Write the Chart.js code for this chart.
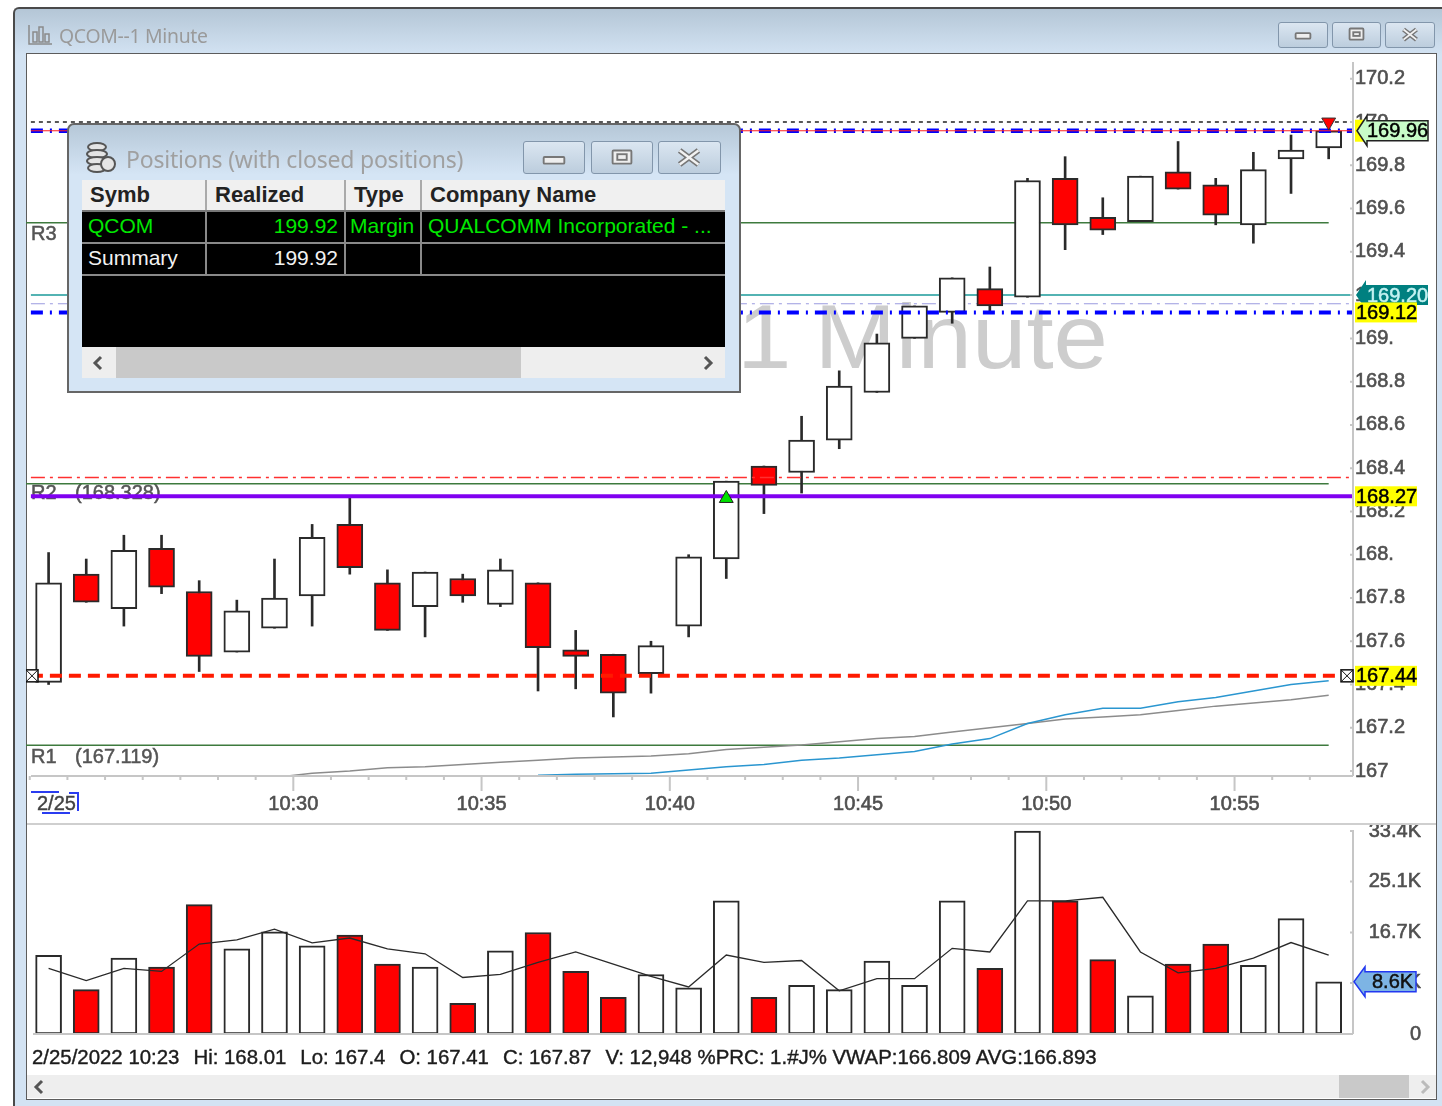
<!DOCTYPE html>
<html>
<head>
<meta charset="utf-8">
<title>QCOM--1 Minute</title>
<script src="https://cdn.jsdelivr.net/npm/chart.js@4"></script>
<style>
  html, body { margin: 0; padding: 0; background: #fff; width: 1442px; height: 1106px; overflow: hidden; }
  body, td, th, div { font-family: "Liberation Sans", Arial, sans-serif; }
  #app { position: absolute; left: 0; top: 0; width: 1442px; height: 1106px; filter: blur(0.45px); }
  #win { position: absolute; left: 13px; top: 7px; width: 1429px; height: 1099px; box-sizing: border-box;
         border-top: 2px solid #4a4a4a; border-left: 2px solid #4a4a4a; border-top-left-radius: 6px;
         background: linear-gradient(#b4c6d6 0, #d3e3f3 46px, #d3e3f3 100%); }
  #panel { position: absolute; left: 26px; top: 53px; width: 1411px; height: 1047px; box-sizing: border-box;
           background: #fff; border: 1.5px solid #5c5c5c; }
  #title { position: absolute; left: 59px; top: 22px; font: 19.4px "Noto Sans", sans-serif; color: #9a9a9a; letter-spacing: -0.3px; }
  canvas { position: absolute; }
  #priceChart { left: 26px; top: 55px; }
  #volumeChart { left: 26px; top: 825px; }
  #divider { position: absolute; left: 27px; top: 823px; width: 1409px; height: 2px; background: #cfcfcf; }
  #dateTag { position: absolute; left: 37px; top: 792px; font-size: 20px; color: #444; -webkit-text-stroke: 0.4px #444; }
  .blue { position: absolute; background: #2a3cf0; }
  #status { position: absolute; left: 32px; top: 1046px; font-size: 20.4px; color: #1c1c1c; white-space: pre; -webkit-text-stroke: 0.4px #1c1c1c; }
  #status span { margin-left: 14px; }
  #scroll { position: absolute; left: 27px; top: 1075px; width: 1409px; height: 23px; background: #eee; }
  #thumb { position: absolute; left: 1312px; top: 0; width: 70px; height: 23px; background: #c9c9c9; }
  .btn { position: absolute; box-sizing: border-box; border: 1.5px solid #8296ab; border-radius: 3px;
         background: linear-gradient(#dbe6f1, #bccddd); }
  .btn svg { position: absolute; left: 0; top: 0; width: 100%; height: 100%; }
  #popup { position: absolute; left: 67px; top: 123px; width: 674px; height: 270px; box-sizing: border-box;
           border: 2px solid #666; border-top-left-radius: 7px; border-top-right-radius: 7px;
           background: linear-gradient(#b6c8d8 0, #d5e5f5 50px, #d5e5f5 100%); }
  #popupTitle { position: absolute; left: 57px; top: 18px; font: 23px "Noto Sans", sans-serif; color: #a0a0a0; letter-spacing: -0.2px; white-space: nowrap; }
  #popTable { position: absolute; left: 13px; top: 55px; width: 643px; height: 167px; border-collapse: collapse; table-layout: fixed; background: #000; }
  #popTable th { background: #f0f0f0; height: 30px; padding: 0 0 0 8px; text-align: left; font-size: 22px; font-weight: bold; color: #222;
                 border-right: 2px solid #aaa; border-bottom: 2px solid #777; }
  #popTable td { font-size: 21px; padding: 0 6px 2px; height: 28px; border: 2px solid #8a8a8a; border-left: none; white-space: nowrap; overflow: hidden; }
  #popTable td:first-child { border-left: none; }
  #popTable .g { color: #00e800; }
  #popTable .w { color: #f2f2f2; }
  #popTable .r { text-align: right; }
  #popTable .blank { height: 73px; border: none; padding: 0; }
  #popScroll { position: absolute; left: 13px; top: 222px; width: 643px; height: 31px; background: #eee; }
  #popThumb { position: absolute; left: 34px; top: 0; width: 405px; height: 31px; background: #c9c9c9; }
  .chev { position: absolute; fill: none; stroke-width: 3; }
</style>
</head>
<body>
<div id="app">
  <div id="win"></div>
  <svg style="position:absolute;left:27px;top:24px" width="26" height="22" fill="none" stroke="#8a8a8a" stroke-width="1.5">
    <path d="M2 1V20H25"/><rect x="6" y="8" width="4" height="10"/><rect x="12" y="3" width="4" height="15"/><rect x="18" y="10" width="4" height="8"/>
  </svg>
  <div id="title">QCOM--1 Minute</div>
  <div class="btn" style="left:1278px;top:22px;width:50px;height:26px"><svg viewBox="0 0 50 26" fill="none" stroke="#777" stroke-width="2"><rect x="17" y="11" width="16" height="6" rx="1" fill="#eee"/></svg></div>
  <div class="btn" style="left:1332px;top:22px;width:49px;height:26px"><svg viewBox="0 0 49 26" fill="none" stroke="#777" stroke-width="2"><rect x="17" y="6" width="15" height="12" rx="1" fill="#eee"/><rect x="21" y="10" width="7" height="4"/></svg></div>
  <div class="btn" style="left:1385px;top:22px;width:50px;height:26px"><svg viewBox="0 0 50 26" fill="none" stroke="#777" stroke-width="5"><path d="M18 7L32 18M32 7L18 18"/><path d="M18 7L32 18M32 7L18 18" stroke="#f2f2f2" stroke-width="2"/></svg></div>
  <div id="panel"></div>
  <canvas id="priceChart" width="1411" height="768"></canvas>
  <div id="divider"></div>
  <canvas id="volumeChart" width="1395" height="220"></canvas>
  <div id="dateTag">2/25</div>
  <div class="blue" style="left:31px;top:791px;width:28px;height:2px"></div>
  <div class="blue" style="left:42px;top:812px;width:28px;height:2px"></div>
  <div class="blue" style="left:69px;top:792px;width:9px;height:1.5px"></div>
  <div class="blue" style="left:77px;top:792px;width:1.5px;height:19px"></div>
  <div id="status">2/25/2022 10:23<span>Hi: 168.01</span><span>Lo: 167.4</span><span>O: 167.41</span><span>C: 167.87</span><span>V: 12,948 %PRC: 1.#J% VWAP:166.809 AVG:166.893</span></div>
  <div id="scroll">
    <svg class="chev" style="left:4px;top:3px" width="16" height="18" stroke="#555"><path d="M11 3L5 9L11 15"/></svg>
    <div id="thumb"></div>
    <svg class="chev" style="left:1390px;top:3px" width="16" height="18" stroke="#bbb"><path d="M5 3L11 9L5 15"/></svg>
  </div>
  <div id="popup">
    <svg style="position:absolute;left:15px;top:16px" width="34" height="34" fill="#e4e4e4" stroke="#555" stroke-width="2">
      <ellipse cx="13" cy="6" rx="9" ry="4"/><ellipse cx="13" cy="13" rx="10" ry="4"/><ellipse cx="13" cy="20" rx="10" ry="4"/><ellipse cx="13" cy="27" rx="9" ry="4"/><circle cx="24" cy="23" r="7"/>
    </svg>
    <div id="popupTitle">Positions (with closed positions)</div>
    <div class="btn" style="left:454px;top:16px;width:62px;height:33px"><svg viewBox="0 0 62 33" fill="none" stroke="#777" stroke-width="2"><rect x="20" y="16" width="22" height="7" rx="1" fill="#eee"/></svg></div>
    <div class="btn" style="left:522px;top:16px;width:62px;height:33px"><svg viewBox="0 0 62 33" fill="none" stroke="#777" stroke-width="2"><rect x="21" y="9" width="20" height="14" rx="1" fill="#eee"/><rect x="26" y="13" width="10" height="6"/></svg></div>
    <div class="btn" style="left:589px;top:16px;width:63px;height:33px"><svg viewBox="0 0 63 33" fill="none" stroke="#777" stroke-width="6"><path d="M21 9L41 24M41 9L21 24"/><path d="M21 9L41 24M41 9L21 24" stroke="#f2f2f2" stroke-width="2.5"/></svg></div>
    <table id="popTable">
      <colgroup><col style="width:124px"><col style="width:139px"><col style="width:76px"><col></colgroup>
      <tr><th>Symb</th><th>Realized</th><th>Type</th><th style="border-right:none">Company Name</th></tr>
      <tr><td class="g">QCOM</td><td class="g r">199.92</td><td class="g" style="padding:0 4px 2px">Margin</td><td class="g" style="border-right:none">QUALCOMM Incorporated - ...</td></tr>
      <tr><td class="w">Summary</td><td class="w r">199.92</td><td></td><td style="border-right:none"></td></tr>
      <tr><td class="blank" colspan="4"></td></tr>
    </table>
    <div id="popScroll">
      <svg class="chev" style="left:8px;top:6px" width="16" height="20" stroke="#555"><path d="M11 4L5 10L11 16"/></svg>
      <div id="popThumb"></div>
      <svg class="chev" style="left:618px;top:6px" width="16" height="20" stroke="#555"><path d="M5 4L11 10L5 16"/></svg>
    </div>
  </div>
</div>

<script>
// one entry per minute bar
const times = ['10:23','10:24','10:25','10:26','10:27','10:28','10:29','10:30','10:31','10:32','10:33','10:34',
               '10:35','10:36','10:37','10:38','10:39','10:40','10:41','10:42','10:43','10:44','10:45','10:46',
               '10:47','10:48','10:49','10:50','10:51','10:52','10:53','10:54','10:55','10:56','10:57'];
const opens  = [167.41,167.91,167.75,168.03,167.83,167.55,167.66,167.81,168.14,167.87,167.76,167.89,
                167.77,167.87,167.56,167.54,167.45,167.67,167.98,168.41,168.38,168.53,168.75,169.00,
                169.12,169.23,169.19,169.74,169.56,169.54,169.77,169.71,169.525,169.83,169.88];
const highs  = [168.01,167.98,168.09,168.09,167.88,167.79,167.98,168.14,168.27,167.93,167.92,167.91,
                167.98,167.87,167.65,167.54,167.60,168.00,168.34,168.41,168.64,168.85,169.02,169.15,
                169.28,169.33,169.74,169.84,169.65,169.75,169.91,169.74,169.86,169.94,169.96];
const lows   = [167.40,167.78,167.67,167.82,167.46,167.55,167.66,167.67,167.91,167.65,167.62,167.78,
                167.76,167.37,167.38,167.25,167.36,167.62,167.89,168.19,168.285,168.49,168.75,169.00,
                169.07,169.12,169.19,169.41,169.48,169.54,169.69,169.525,169.44,169.67,169.83];
const closes = [167.87,167.78,168.02,167.85,167.53,167.74,167.80,168.08,167.94,167.65,167.92,167.81,
                167.93,167.57,167.53,167.36,167.58,167.99,168.34,168.32,168.53,168.78,168.98,169.15,
                169.28,169.15,169.73,169.525,169.50,169.75,169.69,169.57,169.78,169.87,169.96];
const volumes = [12.948,7.3,12.5,11.0,21.3,14.0,16.8,14.5,16.3,11.5,11.0,5.05,
                 13.7,16.7,10.3,6.05,9.8,7.6,21.9,6.05,8.0,7.3,12.0,8.0,
                 21.9,10.8,33.4,21.9,12.25,6.3,11.5,14.8,11.3,19.0,8.6];
const volumeAvg = [10.8,8.8,10.8,10.3,14.8,15.5,17.25,15.0,15.8,14.0,13.2,9.3,
                   9.8,11.8,13.5,11.5,9.5,7.75,13.0,11.8,12.1,7.1,9.1,9.1,
                   14.1,13.5,21.9,21.9,22.5,13.5,10.05,10.8,12.5,15.05,13.0];
const avgLine = [null,null,null,null,null,null,166.97,166.99,167.00,167.015,167.02,167.03,
                 167.04,167.05,167.06,167.065,167.07,167.08,167.10,167.11,167.12,167.135,167.15,167.16,
                 167.18,167.20,167.22,167.24,167.25,167.26,167.28,167.30,167.315,167.33,167.35];
const vwapLine = [null,null,null,null,null,null,null,null,null,null,null,null,
                  null,166.98,166.985,166.987,166.99,167.005,167.02,167.03,167.05,167.06,167.075,167.09,
                  167.125,167.15,167.22,167.26,167.29,167.29,167.32,167.34,167.37,167.40,167.417];

const timeTickLabels = ['10:30','10:35','10:40','10:45','10:50','10:55'];
const priceTicks = [170.2,170,169.8,169.6,169.4,169.2,169,168.8,168.6,168.4,168.2,168,167.8,167.6,167.4,167.2,167];
const priceTickLabels = ['170.2','170','169.8','169.6','169.4','169.2','169.','168.8','168.6','168.4','168.2','168.','167.8','167.6','167.4','167.2','167'];
const volumeTicks = [33.4,25.1,16.7,8.4,0];
const volumeTickLabels = ['33.4K','25.1K','16.7K','8.4K','0'];

const r1 = 167.119, r2 = 168.328, r3 = 169.534;
const r3Label = 'R3', r2Label = 'R2', r1Label = 'R1';
const r2Text = '(168.328)', r1Text = '(167.119)';
const lastPrice = 169.96, pivotTeal = 169.20, blueLevel = 169.12, paleLevel = 169.16;
const topDash = 170.00, redDashDot = 168.357, purpleLevel = 168.27, stopLevel = 167.44;
const buyMarker = 168.26, sellMarker = 170.0;
const lastVolume = 8.6;

function toMinute(t) {
    const parts = t.split(':');
    return parseInt(parts[0]) * 60 + parseInt(parts[1]);
}

// bars sit in the middle of their minute, the ticks on the minute itself
const barX = times.map(t => toMinute(t) + 0.5);
const xMin = 622.90, xMax = 658.146, lineStart = 623.03, lineEnd = 657.5;

function levelSet(label, value, color, width, dash, order, start, end) {
    return {
        type: 'line', label: label, order: order,
        data: [{x: start || lineStart, y: value}, {x: end || xMax, y: value}],
        borderColor: color, borderWidth: width, borderDash: dash || [],
        pointRadius: 0, tension: 0, borderCapStyle: 'butt'
    };
}

function seriesSet(label, values, color, width, order) {
    return {
        type: 'line', label: label, order: order,
        data: barX.map((x, i) => ({x: x, y: values[i]})),
        borderColor: color, borderWidth: width, pointRadius: 0, tension: 0
    };
}

function fixAxisX(height) {
    return scale => { scale.height = height; scale.paddingLeft = 0; scale.paddingRight = 0; };
}
function fixAxisY(width) {
    return scale => { scale.width = width; scale.paddingTop = 0; scale.paddingBottom = 0; };
}

const up = opens.map((o, i) => closes[i] >= o);
const barFill = up.map(u => u ? '#ffffff' : '#ff0000');

function heavyText(ctx, text, x, y, color) {
    ctx.fillStyle = color;
    ctx.strokeStyle = color;
    ctx.lineWidth = 0.5;
    ctx.fillText(text, x, y);
    ctx.strokeText(text, x, y);
}

function arrowTag(ctx, tipX, y, boxX, rightX, fill, stroke, text, color, textX) {
    ctx.beginPath();
    ctx.moveTo(tipX, y);
    ctx.lineTo(boxX, y - 15);
    ctx.lineTo(boxX, y - 10);
    ctx.lineTo(rightX, y - 10);
    ctx.lineTo(rightX, y + 10);
    ctx.lineTo(boxX, y + 10);
    ctx.lineTo(boxX, y + 15);
    ctx.closePath();
    ctx.fillStyle = fill;
    ctx.fill();
    if (stroke) {
        ctx.lineWidth = 1.5;
        ctx.strokeStyle = stroke;
        ctx.stroke();
    }
    ctx.textBaseline = 'middle';
    ctx.textAlign = 'left';
    heavyText(ctx, text, textX, y + 1, color);
}

function yellowTag(ctx, x, y, text) {
    ctx.fillStyle = '#ffff00';
    ctx.fillRect(x, y - 10, 62, 20);
    ctx.textBaseline = 'middle';
    ctx.textAlign = 'left';
    heavyText(ctx, text, x + 1, y + 1, '#000');
}

function crossBox(ctx, x, y) {
    ctx.fillStyle = '#fff';
    ctx.fillRect(x, y - 6, 12, 12);
    ctx.strokeStyle = '#111';
    ctx.lineWidth = 1.5;
    ctx.strokeRect(x, y - 6, 12, 12);
    ctx.lineWidth = 1;
    ctx.beginPath();
    ctx.moveTo(x, y - 6); ctx.lineTo(x + 12, y + 6);
    ctx.moveTo(x + 12, y - 6); ctx.lineTo(x, y + 6);
    ctx.stroke();
}

const priceDecor = {
    id: 'priceDecor',
    beforeDatasetsDraw(chart) {
        const ctx = chart.ctx, y = chart.scales.y, area = chart.chartArea;
        ctx.save();
        // big watermark behind the bars
        ctx.save();
        ctx.translate(1082, 313);
        ctx.scale(1.075, 1);
        ctx.font = '91px "Liberation Sans"';
        ctx.wordSpacing = '-4px';
        ctx.fillStyle = '#cdcdcd';
        ctx.textAlign = 'right';
        ctx.textBaseline = 'alphabetic';
        ctx.fillText('1 Minute', 0, 0);
        ctx.restore();
        // pivot names under their lines
        ctx.font = '20px "Liberation Sans"';
        ctx.textAlign = 'left';
        ctx.textBaseline = 'middle';
        heavyText(ctx, r3Label, area.left + 5, y.getPixelForValue(r3) + 12, '#555');
        heavyText(ctx, r2Label, area.left + 5, y.getPixelForValue(r2) + 10, '#555');
        heavyText(ctx, r2Text, area.left + 49, y.getPixelForValue(r2) + 10, '#555');
        heavyText(ctx, r1Label, area.left + 5, y.getPixelForValue(r1) + 12, '#555');
        heavyText(ctx, r1Text, area.left + 49, y.getPixelForValue(r1) + 12, '#555');
        ctx.restore();
    },
    afterDraw(chart) {
        const ctx = chart.ctx, x = chart.scales.x, y = chart.scales.y, area = chart.chartArea;
        ctx.save();
        ctx.strokeStyle = '#c6c6c6';
        ctx.lineWidth = 2;
        ctx.beginPath();
        ctx.moveTo(area.right, area.top + 7);
        ctx.lineTo(area.right, area.bottom);
        ctx.moveTo(area.left + 5, area.bottom);
        ctx.lineTo(area.right, area.bottom);
        x.ticks.forEach(t => {
            const px = x.getPixelForValue(t.value);
            ctx.moveTo(px, area.bottom);
            ctx.lineTo(px, area.bottom + (t.label ? 15 : 4));
        });
        y.ticks.forEach(t => {
            const py = y.getPixelForValue(t.value);
            ctx.moveTo(area.right - 3, py);
            ctx.lineTo(area.right, py);
        });
        ctx.stroke();

        ctx.font = '20px "Liberation Sans"';
        const tagX = area.right + 2;
        ctx.fillStyle = '#ffff00';
        ctx.fillRect(tagX, y.getPixelForValue(lastPrice) - 11, 10, 22);
        arrowTag(ctx, tagX + 2, y.getPixelForValue(lastPrice), tagX + 12, tagX + 73, '#c8fcc8', '#222', lastPrice.toFixed(2), '#000', tagX + 12);
        arrowTag(ctx, tagX + 1, y.getPixelForValue(pivotTeal), tagX + 11, tagX + 73, '#008080', null, pivotTeal.toFixed(2), '#c4f2f2', tagX + 12);
        yellowTag(ctx, tagX, y.getPixelForValue(blueLevel), blueLevel.toFixed(2));
        yellowTag(ctx, tagX, y.getPixelForValue(purpleLevel), purpleLevel.toFixed(2));
        yellowTag(ctx, tagX, y.getPixelForValue(stopLevel), stopLevel.toFixed(2));
        crossBox(ctx, area.right - 12, y.getPixelForValue(stopLevel));
        crossBox(ctx, area.left, y.getPixelForValue(stopLevel));
        ctx.restore();
    }
};

const volumeDecor = {
    id: 'volumeDecor',
    afterDraw(chart) {
        const ctx = chart.ctx, y = chart.scales.y, area = chart.chartArea;
        ctx.save();
        ctx.strokeStyle = '#c6c6c6';
        ctx.lineWidth = 2;
        ctx.beginPath();
        ctx.moveTo(area.right, area.top + 5);
        ctx.lineTo(area.right, area.bottom);
        ctx.moveTo(area.left + 7, area.bottom);
        ctx.lineTo(area.right, area.bottom);
        y.ticks.forEach(t => {
            const py = y.getPixelForValue(t.value);
            ctx.moveTo(area.right - 3, py);
            ctx.lineTo(area.right, py);
        });
        ctx.stroke();
        ctx.font = '20px "Liberation Sans"';
        arrowTag(ctx, area.right + 1, y.getPixelForValue(lastVolume), area.right + 12, area.right + 63, '#7db4e4', '#2238f0', lastVolume + 'K', '#111', area.right + 19);
        ctx.restore();
    }
};

const tickFont = {family: 'Liberation Sans', size: 20};

function main() {
    new Chart(document.querySelector('#priceChart').getContext('2d'), {
        type: 'bar',
        plugins: [priceDecor],
        data: {
            datasets: [
                // markers on top, then the levels that cross the bars
                {type: 'line', label: 'buy', order: 0, showLine: false, data: [{x: barX[18], y: buyMarker}],
                 pointStyle: 'triangle', pointRadius: 8, pointBackgroundColor: '#00e000', pointBorderColor: '#222', pointBorderWidth: 1},
                {type: 'line', label: 'sell', order: 0, showLine: false, data: [{x: barX[34], y: sellMarker}],
                 pointStyle: 'triangle', pointRotation: 180, pointRadius: 8, pointBackgroundColor: '#ff0000', pointBorderColor: '#333', pointBorderWidth: 1},
                levelSet('last', lastPrice, '#ff2020', 1.1, [], 1),
                levelSet('last blue', lastPrice, '#0000ff', 4.5, [12, 7, 2, 7], 1.5),
                levelSet('top', topDash, '#222', 1.5, [4, 4], 1.5),
                levelSet('blue', blueLevel, '#0000ff', 4, [12, 7, 2, 7], 1.5),
                levelSet('pale', paleLevel, '#9a9ae0', 1.2, [14, 5, 3, 5], 6),
                levelSet('purple', purpleLevel, '#8000f0', 4, [], 1.5),
                levelSet('stop', stopLevel, '#ff1a00', 4, [12, 7], 1.5),
                levelSet('red', redDashDot, '#ff3030', 1.5, [14, 5, 3, 5], 1.5),
                // bars
                {label: 'body', order: 2, grouped: false, barThickness: 26, borderSkipped: false, borderWidth: 2,
                 borderColor: '#2a2a2a', backgroundColor: barFill,
                 data: barX.map((x, i) => ({x: x, y: [opens[i], closes[i]]}))},
                {label: 'wick', order: 3, grouped: false, barThickness: 2, borderWidth: 0, backgroundColor: '#2a2a2a',
                 data: barX.map((x, i) => ({x: x, y: [lows[i], highs[i]]}))},
                // behind the bars
                seriesSet('AVG', avgLine, '#8c8c8c', 1.5, 1.7),
                seriesSet('VWAP', vwapLine, '#2a96d0', 1.5, 1.6),
                levelSet('R3', r3, '#3e7a3e', 1.5, [], 6, xMin, lineEnd),
                levelSet('R2', r2, '#3e7a3e', 1.5, [], 6, xMin, lineEnd),
                levelSet('R1', r1, '#3e7a3e', 1.5, [], 6, xMin, lineEnd),
                levelSet('teal', pivotTeal, '#1a9a9a', 1.5, [], 6)
            ]
        },
        options: {
            responsive: false,
            animation: false,
            events: [],
            layout: {padding: 0, autoPadding: false},
            plugins: {legend: {display: false}, tooltip: {enabled: false}},
            scales: {
                x: {
                    type: 'linear', min: xMin, max: xMax, offset: false,
                    afterBuildTicks: scale => { scale.ticks = times.map(t => ({value: toMinute(t)})); },
                    afterFit: fixAxisX(47),
                    grid: {display: false, offset: false},
                    border: {display: false},
                    ticks: {
                        autoSkip: false, maxRotation: 0, padding: 8, color: '#505050', font: tickFont,
                        textStrokeColor: '#505050', textStrokeWidth: 0.6,
                        callback: v => {
                            const label = times.find(t => toMinute(t) === v);
                            return timeTickLabels.includes(label) ? label : '';
                        }
                    }
                },
                y: {
                    position: 'right', min: 166.977, max: 170.31,
                    afterBuildTicks: scale => { scale.ticks = priceTicks.map(v => ({value: v})); },
                    afterFit: fixAxisY(84),
                    grid: {display: false, drawTicks: false},
                    border: {display: false},
                    ticks: {
                        autoSkip: false, padding: 2, color: '#505050', font: tickFont,
                        textStrokeColor: '#505050', textStrokeWidth: 0.6,
                        callback: v => priceTickLabels[priceTicks.indexOf(v)]
                    }
                }
            }
        }
    });

    new Chart(document.querySelector('#volumeChart').getContext('2d'), {
        type: 'bar',
        plugins: [volumeDecor],
        data: {
            datasets: [
                seriesSet('vol avg', volumeAvg, '#2a2a2a', 1.3, 0),
                {label: 'volume', order: 1, barThickness: 26, borderSkipped: false, borderWidth: 2,
                 borderColor: '#2a2a2a', backgroundColor: barFill,
                 data: barX.map((x, i) => ({x: x, y: volumes[i]}))}
            ]
        },
        options: {
            responsive: false,
            animation: false,
            events: [],
            layout: {padding: 0, autoPadding: false},
            plugins: {legend: {display: false}, tooltip: {enabled: false}},
            scales: {
                x: {
                    type: 'linear', min: xMin, max: xMax, offset: false,
                    afterFit: fixAxisX(11),
                    grid: {display: false, offset: false},
                    border: {display: false},
                    ticks: {display: false}
                },
                y: {
                    position: 'right', min: 0, max: 34.4,
                    afterBuildTicks: scale => { scale.ticks = volumeTicks.map(v => ({value: v})); },
                    afterFit: fixAxisY(68),
                    grid: {display: false, drawTicks: false},
                    border: {display: false},
                    ticks: {
                        autoSkip: false, padding: 15, crossAlign: 'far', color: '#505050', font: tickFont,
                        textStrokeColor: '#505050', textStrokeWidth: 0.6,
                        callback: v => volumeTickLabels[volumeTicks.indexOf(v)]
                    }
                }
            }
        }
    });
}

main();
</script>
</body>
</html>
